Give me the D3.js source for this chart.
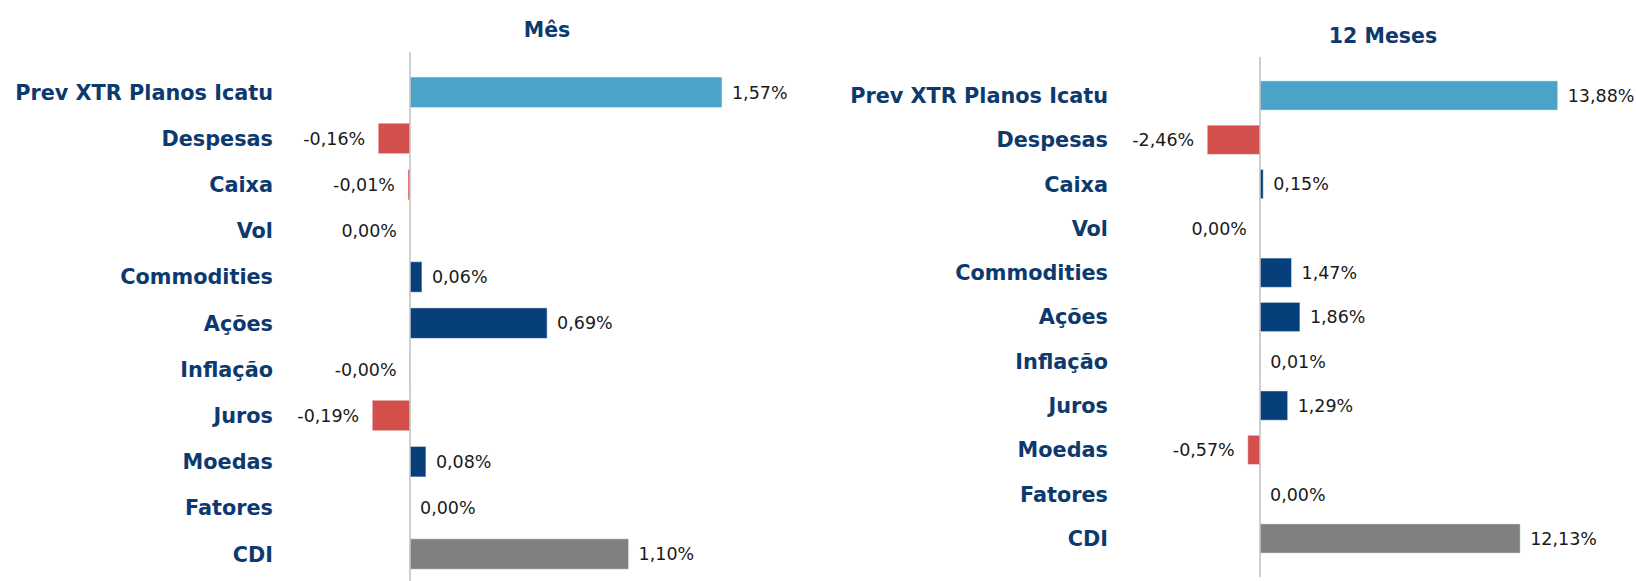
<!DOCTYPE html>
<html>
<head>
<meta charset="utf-8">
<script src="https://cdn.jsdelivr.net/npm/d3@7"></script>
<style>
  html, body { margin: 0; padding: 0; background: #fff; }
  svg { display: block; font-family: Verdana, "DejaVu Sans", sans-serif; }
</style>
</head>
<body>
<svg id="chart" width="1636" height="581"></svg>
<script>
// categories, top to bottom
const categories = ["Prev XTR Planos Icatu", "Despesas", "Caixa", "Vol", "Commodities",
  "Ações", "Inflação", "Juros", "Moedas", "Fatores", "CDI"];

// contributions in %, "Mês" panel (-0 = zero shown on the negative side)
const monthValues = [1.57, -0.16, -0.01, -0, 0.06, 0.69, -0.002, -0.19, 0.08, 0, 1.10];

// contributions in %, "12 Meses" panel
const yearValues = [13.88, -2.46, 0.15, -0, 1.47, 1.86, 0.01, 1.29, -0.57, 0, 12.13];

const titles = ["Mês", "12 Meses"];

const navy = "#0d3a6e";
const colors = { fund: "#4ba3c7", cdi: "#808080", pos: "#063f7a", neg: "#d34f4b" };

const fmt = v => (v < 0 ? "-" : "") + Math.abs(v).toFixed(2).replace(".", ",") + "%";
const isNeg = v => v < 0 || Object.is(v, -0);

function barColor(cat, v) {
  if (cat === "Prev XTR Planos Icatu") return colors.fund;
  if (cat === "CDI") return colors.cdi;
  return isNeg(v) ? colors.neg : colors.pos;
}

const svg = d3.select("#chart");

// one panel per period
function drawPanel(cfg) {
  const g = svg.append("g");

  const x = d3.scaleLinear()
    .domain(cfg.domain)
    .range(cfg.xRange);

  const y = d3.scaleBand()
    .domain(categories)
    .range(cfg.yRange)
    .paddingInner(0.34)
    .paddingOuter(0.17);

  const rows = categories.map((c, i) => ({ cat: c, v: cfg.values[i] }));

  // title
  g.append("text")
    .attr("x", cfg.titleX)
    .attr("y", cfg.titleY)
    .attr("text-anchor", "middle")
    .style("fill", navy)
    .style("font-size", "20.5px")
    .style("font-weight", "bold")
    .text(cfg.title);

  // bars
  g.selectAll("rect.bar")
    .data(rows)
    .join("rect")
    .attr("class", "bar")
    .attr("x", d => x(Math.min(0, d.v)))
    .attr("y", d => y(d.cat))
    .attr("width", d => Math.abs(x(d.v) - x(0)))
    .attr("height", y.bandwidth())
    .attr("fill", d => barColor(d.cat, d.v))
    .attr("stroke", "#ffffff")
    .attr("stroke-opacity", 0.45)
    .attr("stroke-width", 1);

  // zero axis
  g.append("line")
    .attr("x1", x(0)).attr("x2", x(0))
    .attr("y1", cfg.axisY[0]).attr("y2", cfg.axisY[1])
    .attr("stroke", "#bfbfbf")
    .attr("stroke-width", 1.5);

  // category labels
  g.selectAll("text.cat")
    .data(rows)
    .join("text")
    .attr("class", "cat")
    .attr("x", cfg.labelX)
    .attr("y", d => y(d.cat) + y.bandwidth() / 2)
    .attr("dy", "0.36em")
    .attr("text-anchor", "end")
    .style("fill", navy)
    .style("font-size", "20.8px")
    .style("font-weight", "bold")
    .text(d => d.cat);

  // value labels
  g.selectAll("text.val")
    .data(rows)
    .join("text")
    .attr("class", "val")
    .attr("x", d => isNeg(d.v) ? x(d.v) - 13 : x(d.v) + 10)
    .attr("y", d => y(d.cat) + y.bandwidth() / 2)
    .attr("dy", "0.36em")
    .attr("text-anchor", d => isNeg(d.v) ? "end" : "start")
    .style("fill", "#1a1a1a")
    .style("font-size", "17.5px")
    .text(d => fmt(d.v));
}

drawPanel({
  title: titles[0],
  values: monthValues,
  domain: [-2, 2],
  xRange: [12.6, 807.4],
  yRange: [69.2, 577.1],
  axisY: [52, 581],
  labelX: 273,
  titleX: 547,
  titleY: 37
});

drawPanel({
  title: titles[1],
  values: yearValues,
  domain: [-15, 15],
  xRange: [938.25, 1581.75],
  yRange: [73.35, 560.65],
  axisY: [57, 577],
  labelX: 1108,
  titleX: 1383,
  titleY: 43
});
</script>
</body>
</html>
